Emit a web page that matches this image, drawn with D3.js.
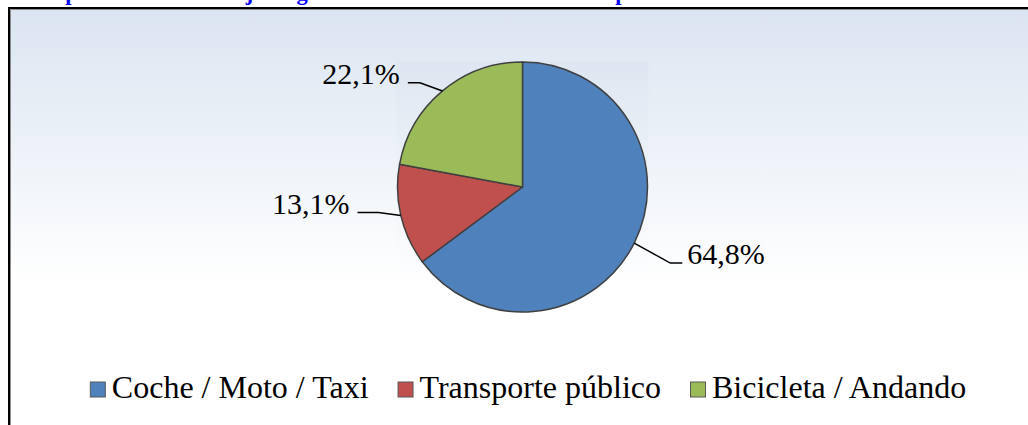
<!DOCTYPE html>
<html>
<head>
<meta charset="utf-8">
<script src="https://cdn.jsdelivr.net/npm/d3@7/dist/d3.min.js"></script>
<style>
  html, body { margin: 0; padding: 0; background: #ffffff; }
  svg { display: block; }
  text { font-family: "Liberation Serif", "Times New Roman", Tinos, "DejaVu Serif", serif; }
</style>
</head>
<body>
<svg id="chart" width="1028" height="425"></svg>
<script>
// Reparto modal: share of trips by mode of transport
const categories = ["Coche / Moto / Taxi", "Transporte público", "Bicicleta / Andando"];
const shares = [64.8, 13.1, 22.1];
const valueLabels = ["64,8%", "13,1%", "22,1%"];
const colors = ["#4f81bd", "#c0504d", "#9bbb59"];
const title = "Reparto modal de viajes según la elección del modo de transporte";

// Leader line layout per slice: elbow radius factor, angle tweak (deg), horizontal run
const leaderLayout = [
  { reach: 1.33, turn: 0.6, run: 12 },
  { reach: 1.17, turn: 3.1, run: 21 },
  { reach: 1.17, turn: -4.8, run: 12 }
];

const W = 1028, H = 425;
const svg = d3.select("#chart");
const defs = svg.append("defs");

// Chart area background gradient (light blue fading to white)
const bg = defs.append("linearGradient")
  .attr("id", "bgGrad").attr("gradientUnits", "userSpaceOnUse")
  .attr("x1", 0).attr("y1", 10).attr("x2", 0).attr("y2", 285);
bg.append("stop").attr("offset", 0).attr("stop-color", "#dbe5f1");
bg.append("stop").attr("offset", 1).attr("stop-color", "#ffffff");

const pg = defs.append("linearGradient")
  .attr("id", "plotGrad").attr("gradientUnits", "userSpaceOnUse")
  .attr("x1", 0).attr("y1", 61).attr("x2", 0).attr("y2", 287);
pg.append("stop").attr("offset", 0).attr("stop-color", "#dde6f1");
pg.append("stop").attr("offset", 1).attr("stop-color", "#ffffff");

// Title (sits above the chart frame)
svg.append("text")
  .attr("x", 39).attr("y", 0)
  .attr("font-weight", "bold")
  .attr("font-size", 22.5)
  .attr("fill", "#0000ff")
  .text(title);

// Chart frame
svg.append("rect")
  .attr("x", 9).attr("y", 8).attr("width", W + 20).attr("height", H + 20)
  .attr("fill", "url(#bgGrad)")
  .attr("stroke", "#000000").attr("stroke-width", 2);
svg.append("path")
  .attr("d", `M10.5,${H + 5}V9.5H${W + 5}`)
  .attr("fill", "none").attr("stroke", "#8c8c8c").attr("stroke-width", 1);

// Plot area
const cx = 522.5, cy = 187, r = 125;
svg.append("rect")
  .attr("x", cx - r - 1).attr("y", 61).attr("width", 2 * r + 2).attr("height", 226)
  .attr("fill", "url(#plotGrad)");

// Pie, clockwise from 12 o'clock, in data order
const data = categories.map((c, i) => ({ name: c, value: shares[i], label: valueLabels[i], color: colors[i], i }));
const pie = d3.pie().value(d => d.value).sort(null);
const arcs = pie(data);
const arc = d3.arc().innerRadius(0).outerRadius(r);

const g = svg.append("g").attr("transform", `translate(${cx},${cy})`);
g.selectAll("path.slice")
  .data(arcs)
  .join("path")
  .attr("class", "slice")
  .attr("d", arc)
  .attr("fill", d => d.data.color)
  .attr("stroke", "#404040")
  .attr("stroke-width", 1.5)
  .attr("stroke-linejoin", "round");

// Data labels with leader lines
const polar = (angle, radius) => [radius * Math.sin(angle), -radius * Math.cos(angle)];

arcs.forEach((a, i) => {
  const lay = leaderLayout[i];
  const mid = (a.startAngle + a.endAngle) / 2;
  const p0 = polar(mid, r);
  const p1 = polar(mid + lay.turn * Math.PI / 180, r * lay.reach);
  const right = Math.sin(mid) > 0;
  const p2 = [p1[0] + (right ? lay.run : -lay.run), p1[1]];
  g.append("path")
    .attr("d", `M${p0[0]},${p0[1]}L${p1[0]},${p1[1]}L${p2[0]},${p2[1]}`)
    .attr("fill", "none")
    .attr("stroke", "#000000")
    .attr("stroke-width", 1.5);
  g.append("text")
    .attr("x", p2[0] + (right ? 5 : -8))
    .attr("y", p2[1] + 1)
    .attr("text-anchor", right ? "start" : "end")
    .attr("font-size", 30)
    .attr("fill", "#000000")
    .text(a.data.label);
});

// Legend, centred under the pie
const legend = svg.append("g");
const sq = 15, sqGap = 7, itemGap = 29, legendBase = 398, legendCenter = 528;
const items = legend.selectAll("g.item").data(data).join("g").attr("class", "item");
items.append("rect")
  .attr("width", sq).attr("height", sq)
  .attr("y", legendBase - 16)
  .attr("fill", d => d.color)
  .attr("stroke", "#595959").attr("stroke-width", 1);
const texts = items.append("text")
  .attr("y", legendBase)
  .attr("font-size", 32)
  .attr("fill", "#000000")
  .text(d => d.name);
const widths = texts.nodes().map(n => n.getComputedTextLength());
const total = d3.sum(widths) + data.length * (sq + sqGap) + (data.length - 1) * itemGap;
let xPos = legendCenter - total / 2;
items.each(function (d, i) {
  const node = d3.select(this);
  node.select("rect").attr("x", xPos + 0.5);
  node.select("text").attr("x", xPos + sq + sqGap);
  xPos += sq + sqGap + widths[i] + itemGap;
});
</script>
</body>
</html>
